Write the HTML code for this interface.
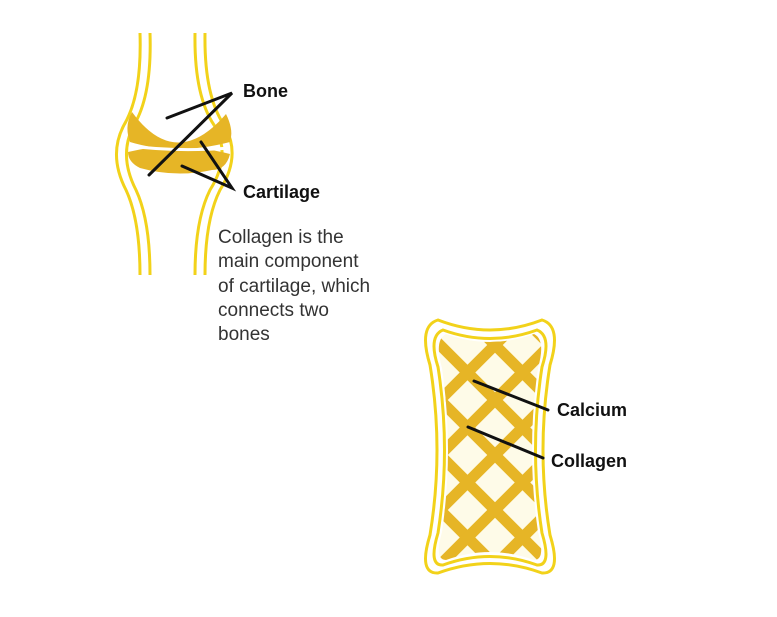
<!DOCTYPE html>
<html><head><style>
html,body{margin:0;padding:0;background:#fff;overflow:hidden;width:777px;height:617px;}
svg{display:block;}
text{font-family:"Liberation Sans",Arial,sans-serif;}
</style></head><body>
<svg width="777" height="617" viewBox="0 0 777 617">
<defs>
<clipPath id="bc"><path d="M446 334 Q490 350 534 334 Q546 340 538 368 Q526 450 538 532 Q546 560 534 560 Q490 544 446 560 Q434 560 442 532 Q454 450 442 368 Q434 340 446 334 Z"/></clipPath>
</defs>
<g fill="none" stroke="#f2d21a" stroke-width="3">
<path d="M140 33 Q142 95 124 125 Q108 155 126 190 Q140 220 140 275"/>
<path d="M150 33 Q152 95 134 125 Q118 155 136 190 Q150 220 150 275"/>
<path d="M195 33 Q194 95 214 125 Q232 155 210 190 Q195 220 195 275"/>
<path d="M205 33 Q204 95 224 125 Q242 155 220 190 Q205 220 205 275"/>
</g>
<path d="M132 112 Q176 172 226 114 Q234 130 230 142 Q176 156 130 142 Q124 126 132 112 Z" fill="#e6b526"/>
<path d="M128 152 Q176 140 230 154 Q226 170 212 170 Q176 178 140 168 Q128 162 128 152 Z" fill="#e6b526"/>
<path d="M130 146 Q176 152 230 148" stroke="#fff" stroke-width="3" fill="none"/>
<g stroke="#111" stroke-width="3" fill="none" stroke-linecap="round">
<path d="M167 118 L232 93 L149 175"/>
<path d="M201 142 L232 188 L182 166"/>
</g>
<text x="243" y="97" font-size="18" font-weight="bold" fill="#111">Bone</text>
<text x="243" y="198" font-size="18" font-weight="bold" fill="#111">Cartilage</text>
<g font-size="19" fill="#333">
<text x="218" y="243">Collagen is the</text>
<text x="218" y="267">main component</text>
<text x="218" y="292">of cartilage, which</text>
<text x="218" y="316">connects two</text>
<text x="218" y="340">bones</text>
</g>
<g fill="none" stroke="#f2d21a" stroke-width="3">
<path d="M438 320 Q490 340 542 320 Q562 326 550 365 Q536 450 550 535 Q562 574 542 573 Q490 554 438 573 Q418 574 430 535 Q444 450 430 365 Q418 326 438 320 Z"/>
<path d="M443 330 Q490 347 537 330 Q552 336 542 367 Q529 450 542 533 Q552 566 537 565 Q490 548 443 565 Q428 566 438 533 Q451 450 438 367 Q428 336 443 330 Z"/>
</g>
<g clip-path="url(#bc)">
<rect x="430" y="325" width="120" height="245" fill="#fefbe8"/>
<g stroke="#e6b526" stroke-width="11">
<line x1="380" y1="340" x2="600" y2="560"/>
<line x1="380" y1="285" x2="600" y2="505"/>
<line x1="380" y1="395" x2="600" y2="615"/>
<line x1="380" y1="450" x2="600" y2="670"/>
<line x1="380" y1="230" x2="600" y2="450"/>
<line x1="380" y1="175" x2="600" y2="395"/>
<line x1="600" y1="240" x2="380" y2="460"/>
<line x1="600" y1="295" x2="380" y2="515"/>
<line x1="600" y1="350" x2="380" y2="570"/>
<line x1="600" y1="405" x2="380" y2="625"/>
<line x1="600" y1="460" x2="380" y2="680"/>
<line x1="600" y1="515" x2="380" y2="735"/>
</g>
</g>
<g stroke="#111" stroke-width="3" fill="none" stroke-linecap="round">
<path d="M474 381 L548 410"/>
<path d="M468 427 L543 458"/>
</g>
<text x="557" y="416" font-size="18" font-weight="bold" fill="#111">Calcium</text>
<text x="551" y="467" font-size="18" font-weight="bold" fill="#111">Collagen</text>
</svg>
</body></html>
